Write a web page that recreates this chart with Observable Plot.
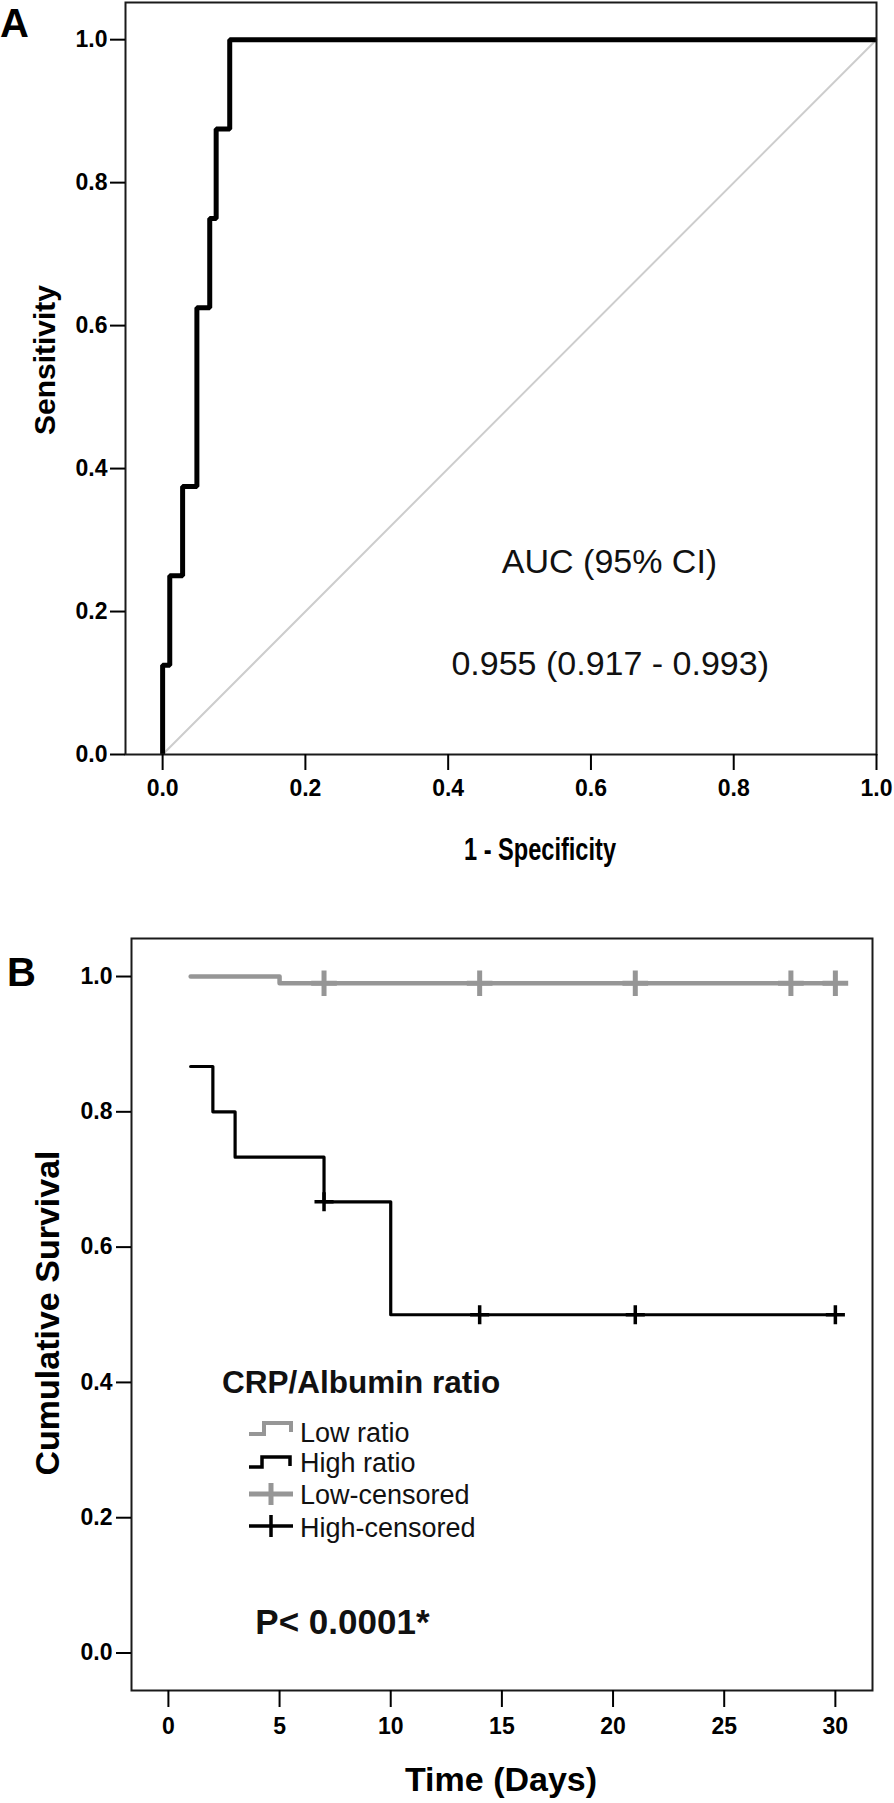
<!DOCTYPE html>
<html><head><meta charset="utf-8">
<script src="https://cdn.jsdelivr.net/npm/d3@7"></script>
<script src="https://cdn.jsdelivr.net/npm/@observablehq/plot@0.6"></script>
<style>
body{margin:0;background:#fff;}
#wrap{position:relative;width:894px;height:1803px;overflow:hidden;font-family:"Liberation Sans",Arial,sans-serif;}
#overlay{position:absolute;left:0;top:0;pointer-events:none;}
</style></head><body>
<div id="wrap">
  <div id="panelA" style="position:absolute;left:0;top:0"></div>
  <div id="panelB" style="position:absolute;left:0;top:900px"></div>
</div>
<script>
// ---------- Panel A : ROC curve ----------
const rocFpr = [0, 0, 0.010, 0.028, 0.048, 0.066, 0.075, 0.094, 1.0];
const rocTpr = [0, 0.125, 0.25, 0.375, 0.625, 0.75, 0.875, 1.0, 1.0];
const refLineX = [0, 1];
const refLineY = [0, 1];
const rocTicks = [0, 0.2, 0.4, 0.6, 0.8, 1.0];
const aucTitle = "AUC (95% CI)";
const aucValue = "0.955 (0.917 - 0.993)";
const rocXLabel = "1 - Specificity";
const rocYLabel = "Sensitivity";

// ---------- Panel B : Kaplan-Meier ----------
const lowTime = [1, 5, 30];
const lowSurv = [1.0, 0.99, 0.99];
const highTime = [1, 2, 3, 7, 10, 30];
const highSurv = [0.867, 0.8, 0.733, 0.667, 0.5, 0.5];
const lowCensTime = [7, 14, 21, 28, 30];
const lowCensSurv = [0.99, 0.99, 0.99, 0.99, 0.99];
const highCensTime = [7, 14, 21, 30];
const highCensSurv = [0.667, 0.5, 0.5, 0.5];
const timeTicks = [0, 5, 10, 15, 20, 25, 30];
const survTicks = [0, 0.2, 0.4, 0.6, 0.8, 1.0];
const legendTitle = "CRP/Albumin ratio";
const legendLabels = ["Low ratio", "High ratio", "Low-censored", "High-censored"];
const pText = "P< 0.0001*";
const kmXLabel = "Time (Days)";
const kmYLabel = "Cumulative Survival";

const GRAY = "#969696";
const FONT = "'Liberation Sans', Arial, Helvetica, sans-serif";

const roc = rocFpr.map((x, i) => ({x, y: rocTpr[i]}));
const ref = refLineX.map((x, i) => ({x, y: refLineY[i]}));
const low = lowTime.map((t, i) => ({t, s: lowSurv[i]}));
const high = highTime.map((t, i) => ({t, s: highSurv[i]}));
const lowC = lowCensTime.map((t, i) => ({t, s: lowCensSurv[i]}));
const highC = highCensTime.map((t, i) => ({t, s: highCensSurv[i]}));

const fmt1 = d3.format(".1f");
const TICKFS = 23;

const plotA = Plot.plot({
  width: 894, height: 880,
  marginLeft: 125, marginRight: 18, marginTop: 2, marginBottom: 126,
  style: {fontFamily: FONT, fontSize: TICKFS + "px", fontWeight: "bold", color: "#000", background: "transparent", overflow: "visible"},
  x: {domain: [-0.052, 1.0]},
  y: {domain: [0, 1.052]},
  marks: [
    Plot.line(ref, {x: "x", y: "y", stroke: "#cdcdcd", strokeWidth: 2}),
    Plot.line(roc, {x: "x", y: "y", curve: "step-after", stroke: "#000", strokeWidth: 5, strokeLinejoin: "miter", strokeLinecap: "butt"}),
    Plot.frame({stroke: "#1a1a1a", strokeWidth: 2}),
    Plot.axisX({ticks: rocTicks, tickFormat: fmt1, tickSize: 16, tickPadding: 9, strokeWidth: 2, fontSize: TICKFS, fontWeight: "bold", label: null}),
    Plot.axisY({ticks: rocTicks, tickFormat: fmt1, tickSize: 15, tickPadding: 3, strokeWidth: 2, fontSize: TICKFS, fontWeight: "bold", label: null}),
    Plot.text([aucTitle], {x: 0.626, y: 0.269, text: d => d, fontSize: 34, fontWeight: "normal", fill: "#111"}),
    Plot.text([aucValue], {x: 0.627, y: 0.126, text: d => d, fontSize: 34, fontWeight: "normal", fill: "#111"})
  ]
});
document.getElementById("panelA").appendChild(plotA);

const plotB = Plot.plot({
  width: 894, height: 903,
  marginLeft: 131, marginRight: 22, marginTop: 38, marginBottom: 113,
  style: {fontFamily: FONT, fontSize: TICKFS + "px", fontWeight: "bold", color: "#000", background: "transparent", overflow: "visible"},
  x: {domain: [-1.66, 31.67]},
  y: {domain: [-0.0554, 1.0562]},
  marks: [
    Plot.frame({stroke: "#1a1a1a", strokeWidth: 2}),
    Plot.line(low, {x: "t", y: "s", curve: "step-after", stroke: GRAY, strokeWidth: 4.5}),
    Plot.dot(lowC, {x: "t", y: "s", symbol: "plus", r: 8.3, stroke: GRAY, strokeWidth: 5}),
    Plot.line(high, {x: "t", y: "s", curve: "step-after", stroke: "#000", strokeWidth: 3.2}),
    Plot.dot(highC, {x: "t", y: "s", symbol: "plus", r: 6.2, stroke: "#000", strokeWidth: 3.5}),
    Plot.axisX({ticks: timeTicks, tickFormat: d => String(d), tickSize: 17, tickPadding: 10, strokeWidth: 2, fontSize: TICKFS, fontWeight: "bold", label: null}),
    Plot.axisY({ticks: survTicks, tickFormat: fmt1, tickSize: 15, tickPadding: 4, strokeWidth: 2, fontSize: TICKFS, fontWeight: "bold", label: null}),
    Plot.text([pText], {x: 3.91, y: 0.044, text: d => d, textAnchor: "start", fontSize: 35, fontWeight: "bold", fill: "#111"})
  ]
});
document.getElementById("panelB").appendChild(plotB);

// ---------- Overlay: panel letters, axis titles, legend ----------
const ns = "http://www.w3.org/2000/svg";
const ov = d3.select("#wrap").append("svg").attr("id", "overlay")
  .attr("width", 894).attr("height", 1803).attr("xmlns", ns)
  .style("font-family", FONT);

function txt(s, x, y, size, weight, opts = {}) {
  const t = ov.append("text").attr("x", x).attr("y", y)
    .attr("font-size", size).attr("font-weight", weight).attr("fill", opts.fill || "#000")
    .attr("text-anchor", opts.anchor || "start").text(s);
  if (opts.rotate) t.attr("transform", `rotate(-90 ${x} ${y})`);
  if (opts.dy) t.attr("dy", opts.dy);
  if (opts.length) t.attr("textLength", opts.length).attr("lengthAdjust", "spacingAndGlyphs");
  return t;
}

txt("A", 0, 37, 40, "bold");
txt("B", 7, 986, 40, "bold");
txt(rocYLabel, 44, 360, 30, "bold", {anchor: "middle", rotate: true, dy: "0.35em"});
txt(rocXLabel, 540, 860, 31, "bold", {anchor: "middle", length: 152});
txt(kmYLabel, 47, 1313, 34, "bold", {anchor: "middle", rotate: true, dy: "0.35em"});
txt(kmXLabel, 501, 1791, 34, "bold", {anchor: "middle"});

// legend
txt(legendTitle, 222, 1393, 31.5, "bold", {fill: "#111"});
const legendBase = [1442, 1472, 1504, 1537];
legendLabels.forEach((s, i) => txt(s, 300, legendBase[i], 27, "normal", {fill: "#111"}));
// step icons
ov.append("path").attr("d", "M249,1434 H264 V1423 H291 V1432").attr("fill", "none").attr("stroke", GRAY).attr("stroke-width", 4);
ov.append("path").attr("d", "M249,1467 H262 V1457 H290 V1466").attr("fill", "none").attr("stroke", "#000").attr("stroke-width", 3.5);
// cross icons
ov.append("path").attr("d", "M249,1494 H293 M271,1483 V1505").attr("fill", "none").attr("stroke", GRAY).attr("stroke-width", 5);
ov.append("path").attr("d", "M249,1526 H293 M271,1515 V1537").attr("fill", "none").attr("stroke", "#000").attr("stroke-width", 3.5);
</script>
</body></html>
